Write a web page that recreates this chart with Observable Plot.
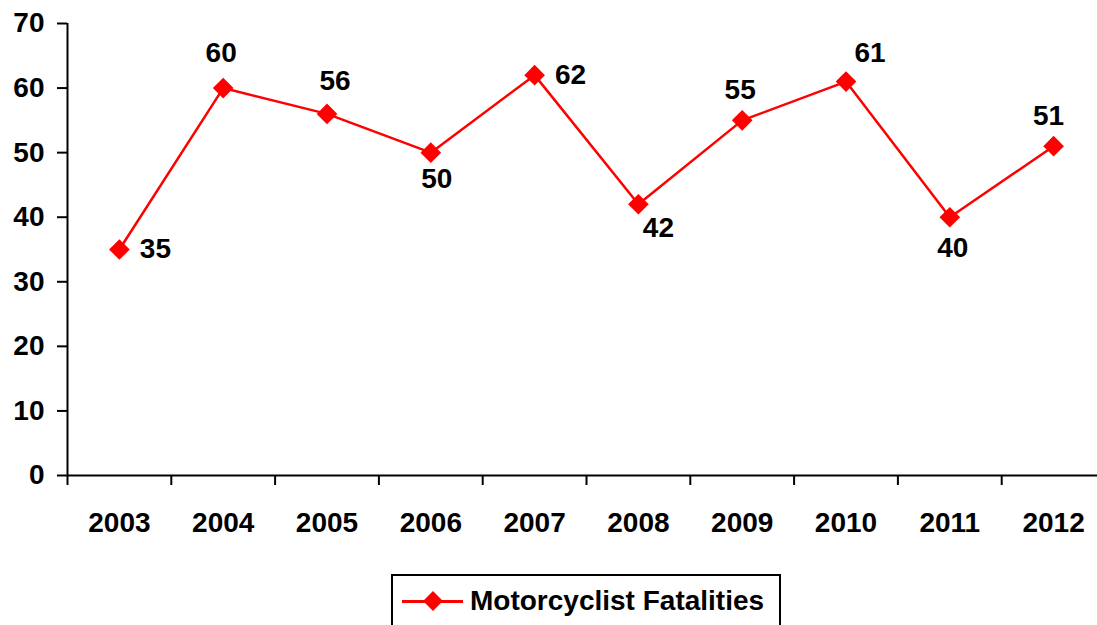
<!DOCTYPE html>
<html>
<head>
<meta charset="utf-8">
<script src="https://cdn.jsdelivr.net/npm/d3@7"></script>
<script src="https://cdn.jsdelivr.net/npm/@observablehq/plot@0.6"></script>
<style>
  html, body { margin: 0; padding: 0; background: #fff; overflow: hidden; width: 1097px; height: 625px; }
  #chart { position: absolute; left: 0; top: 0; width: 1110px; }
  #chart svg { max-width: none !important; }
  #legend {
    position: absolute; left: 391px; top: 574px; width: 386px; height: 70px;
    border: 2px solid #000; background: #fff;
    font-family: "Liberation Sans", Arial, sans-serif; font-weight: bold; font-size: 28px; color: #000;
  }
  #legend .line { position: absolute; left: 9px; top: 24px; width: 61px; height: 3px; background: #ff0000; }
  #legend .diamond { position: absolute; left: 33px; top: 18px; width: 14px; height: 14px; background: #ff0000; transform: rotate(45deg); }
  #legend .label { position: absolute; left: 77px; top: 9px; line-height: 32px; white-space: nowrap; }
</style>
</head>
<body>
<div id="chart"></div>
<div id="legend"><div class="line"></div><div class="diamond"></div><div class="label">Motorcyclist Fatalities</div></div>
<script>
const years = [2003, 2004, 2005, 2006, 2007, 2008, 2009, 2010, 2011, 2012];
const fatalities = [35, 60, 56, 50, 62, 42, 55, 61, 40, 51];
const yTicks = [0, 10, 20, 30, 40, 50, 60, 70];
const seriesName = "Motorcyclist Fatalities";

// label offsets (dx, dy) in pixels, mimicking the original label placement
const labelOffsets = [[36, 0], [-2, -35], [8, -33], [6, 26], [36, 0], [20, 24], [-2, -30], [24, -29], [3, 31], [-5, -30]];

const data = years.map((y, i) => ({year: y, value: fatalities[i]}));
const boundaries = d3.range(years[0] - 0.5, years[years.length - 1] + 1, 1);

const font = "Liberation Sans, Arial, sans-serif";

const chart = Plot.plot({
  width: 1110,
  height: 565,
  marginLeft: 67,
  marginRight: 5,
  marginTop: 23,
  marginBottom: 90,
  style: {fontFamily: font, fontSize: "28px", fontWeight: "bold", color: "#000", background: "#fff", overflow: "visible", maxWidth: "none"},
  x: {domain: [years[0] - 0.5, years[years.length - 1] + 0.5]},
  y: {domain: [0, 70]},
  marks: [
    Plot.axisY({ticks: yTicks, tickSize: 10, tickPadding: 13, strokeWidth: 2, stroke: "#000", label: null, fontSize: 28, tickFormat: d => String(d)}),
    Plot.axisX({ticks: boundaries, tickSize: 10, strokeWidth: 2, stroke: "#000", tickFormat: () => "", label: null}),
    Plot.axisX({ticks: years, tickSize: 0, tickPadding: 37, fontSize: 28, tickFormat: d => String(d), label: null}),
    Plot.ruleX([years[0] - 0.5], {y1: 0, y2: 70, stroke: "#000", strokeWidth: 2}),
    Plot.ruleY([0], {stroke: "#000", strokeWidth: 2}),
    Plot.line(data, {x: "year", y: "value", stroke: "#ff0000", strokeWidth: 2.5}),
    Plot.dot(data, {x: "year", y: "value", symbol: "diamond2", r: 9.3, fill: "#ff0000", stroke: "none"}),
    ...labelOffsets.map((o, i) => Plot.text([data[i]], {
      x: "year", y: "value", text: d => String(d.value), dx: o[0], dy: o[1],
      fill: "#000", fontSize: 28, fontWeight: "bold", fontFamily: font
    }))
  ]
});
document.getElementById("chart").appendChild(chart);
</script>
</body>
</html>
